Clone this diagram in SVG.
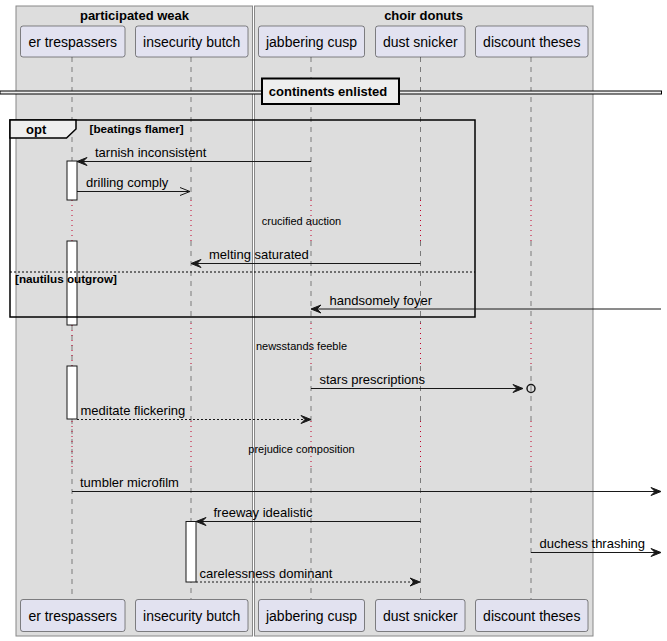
<svg xmlns="http://www.w3.org/2000/svg" width="667" height="641" viewBox="0 0 667 641">
<defs>
<style>
text{font-family:"Liberation Sans",Arial,sans-serif;fill:#000}
.grp{fill:#DDDDDD;stroke:#888888;stroke-width:1}
.gt{font-size:13px;font-weight:bold;text-anchor:middle}
.pb{fill:#E2E2F0;stroke:#181818;stroke-width:0.5}
.pt{font-size:14px;text-anchor:middle}
.ll{stroke:#181818;stroke-width:0.5;stroke-dasharray:5,5;fill:none}
.dl{stroke:#C0002A;stroke-width:1;stroke-dasharray:1,4;fill:none}
.act{fill:#FFFFFF;stroke:#181818;stroke-width:1}
.m{stroke:#181818;stroke-width:1;fill:none}
.md{stroke:#181818;stroke-width:1;fill:none;stroke-dasharray:2,2}
.ah{fill:#181818;stroke:#181818;stroke-width:1}
.mt{font-size:13px}
.dt{font-size:11px;text-anchor:middle}
.gd{font-size:11.7px;font-weight:bold}
</style>
</defs>
<rect width="667" height="641" fill="#FFFFFF"/>
<g id="box-participated-weak">
<rect class="grp" x="16" y="6" width="236.5" height="630"/>
<text class="gt" x="134.5" y="19.5">participated weak</text>
</g>
<g id="box-choir-donuts">
<rect class="grp" x="254.5" y="6" width="338.5" height="630"/>
<text class="gt" x="423.5" y="19.5">choir donuts</text>
</g>
<g id="lifelines">
<path class="ll" d="M72,57V161M72,325V366M72,419V599"/>
<path class="dl" d="M72,200V241M72,325V366M72,421V468"/>
<path class="ll" d="M191,57V200M191,241V323M191,366V421M191,468V599"/>
<path class="dl" d="M191,200V241M191,323V366M191,421V468"/>
<path class="ll" d="M311,57V200M311,241V323M311,366V421M311,468V599"/>
<path class="dl" d="M311,200V241M311,323V366M311,421V468"/>
<path class="ll" d="M420.5,57V200M420.5,241V323M420.5,366V421M420.5,468V599"/>
<path class="dl" d="M420.5,200V241M420.5,323V366M420.5,421V468"/>
<path class="ll" d="M531,57V200M531,241V323M531,366V421M531,468V599"/>
<path class="dl" d="M531,200V241M531,323V366M531,421V468"/>
</g>
<g id="er-trespassers">
<rect class="pb" x="20.5" y="26" width="104.5" height="31" rx="2.5"/>
<text class="pt" x="72.75" y="46.5">er trespassers</text>
<rect class="pb" x="20.5" y="599.5" width="104.5" height="32" rx="2.5"/>
<text class="pt" x="72.75" y="620.5">er trespassers</text>
</g>
<g id="insecurity-butch">
<rect class="pb" x="135.5" y="26" width="112.5" height="31" rx="2.5"/>
<text class="pt" x="191.75" y="46.5">insecurity butch</text>
<rect class="pb" x="135.5" y="599.5" width="112.5" height="32" rx="2.5"/>
<text class="pt" x="191.75" y="620.5">insecurity butch</text>
</g>
<g id="jabbering-cusp">
<rect class="pb" x="258.5" y="26" width="106" height="31" rx="2.5"/>
<text class="pt" x="311.5" y="46.5">jabbering cusp</text>
<rect class="pb" x="258.5" y="599.5" width="106" height="32" rx="2.5"/>
<text class="pt" x="311.5" y="620.5">jabbering cusp</text>
</g>
<g id="dust-snicker">
<rect class="pb" x="375.5" y="26" width="89.5" height="31" rx="2.5"/>
<text class="pt" x="420.25" y="46.5">dust snicker</text>
<rect class="pb" x="375.5" y="599.5" width="89.5" height="32" rx="2.5"/>
<text class="pt" x="420.25" y="620.5">dust snicker</text>
</g>
<g id="discount-theses">
<rect class="pb" x="475.5" y="26" width="112.5" height="31" rx="2.5"/>
<text class="pt" x="531.75" y="46.5">discount theses</text>
<rect class="pb" x="475.5" y="599.5" width="112.5" height="32" rx="2.5"/>
<text class="pt" x="531.75" y="620.5">discount theses</text>
</g>
<g id="divider-continents-enlisted">
<rect x="0" y="91" width="661.5" height="3" fill="#EEEEEE" stroke="#000000" stroke-width="1"/>
<rect x="262" y="78.5" width="137" height="25.5" fill="#EEEEEE" stroke="#000000" stroke-width="2"/>
<text x="328" y="96" font-size="13" font-weight="bold" text-anchor="middle">continents enlisted</text>
</g>
<g id="activations">
<rect class="act" x="67" y="161" width="10" height="39"/>
<rect class="act" x="67" y="241" width="10" height="84"/>
<rect class="act" x="67" y="366" width="10" height="53"/>
<rect class="act" x="186" y="521.5" width="10" height="60.5"/>
</g>
<g id="opt-fragment">
<rect x="10" y="120" width="465" height="197" fill="none" stroke="#000000" stroke-width="1.5"/>
<path d="M10,120H76V129L66.5,138H10Z" fill="#EEEEEE" stroke="#000000" stroke-width="1.5"/>
<text x="26" y="134" font-size="13" font-weight="bold">opt</text>
<text class="gd" x="89.5" y="133">[beatings flamer]</text>
<line x1="10" y1="272" x2="475" y2="272" stroke="#000000" stroke-width="1" stroke-dasharray="2,2"/>
<text class="gd" x="15" y="283">[nautilus outgrow]</text>
</g>
<g id="delays">
<text class="dt" x="301.5" y="224.5">crucified auction</text>
<text class="dt" x="301.5" y="349.5">newsstands feeble</text>
<text class="dt" x="301.5" y="453">prejudice composition</text>
</g>
<g id="connectors">
<line class="m" x1="311" y1="161.5" x2="78" y2="161.5"/>
<polygon class="ah" points="77,161.5 87,157.5 83,161.5 87,165.5"/>
<text class="mt" x="95" y="157">tarnish inconsistent</text>

<line class="m" x1="77" y1="191.5" x2="190" y2="191.5"/>
<path class="m" d="M180,187.5L190,191.5L180,195.5"/>
<text class="mt" x="86" y="187">drilling comply</text>

<line class="m" x1="420.5" y1="263.5" x2="192" y2="263.5"/>
<polygon class="ah" points="191,263.5 201,259.5 197,263.5 201,267.5"/>
<text class="mt" x="209" y="259">melting saturated</text>

<line class="m" x1="661" y1="309" x2="312" y2="309"/>
<polygon class="ah" points="311,309 321,305 317,309 321,313"/>
<text class="mt" x="329.5" y="304.5">handsomely foyer</text>

<line class="m" x1="311" y1="388.5" x2="522" y2="388.5"/>
<polygon class="ah" points="523,388.5 513,384.5 517,388.5 513,392.5"/>
<circle cx="531" cy="388.5" r="4" fill="none" stroke="#181818" stroke-width="1.5"/>
<text class="mt" x="319.5" y="384">stars prescriptions</text>

<line class="md" x1="77" y1="419.5" x2="310" y2="419.5"/>
<polygon class="ah" points="311,419.5 301,415.5 305,419.5 301,423.5"/>
<text class="mt" x="80.5" y="415">meditate flickering</text>

<line class="m" x1="72" y1="491.5" x2="660" y2="491.5"/>
<polygon class="ah" points="661,491.5 651,487.5 655,491.5 651,495.5"/>
<text class="mt" x="80" y="487">tumbler microfilm</text>

<line class="m" x1="420.5" y1="521.5" x2="197" y2="521.5"/>
<polygon class="ah" points="196,521.5 206,517.5 202,521.5 206,525.5"/>
<text class="mt" x="213.5" y="517">freeway idealistic</text>

<line class="m" x1="531" y1="552.5" x2="660" y2="552.5"/>
<polygon class="ah" points="661,552.5 651,548.5 655,552.5 651,556.5"/>
<text class="mt" x="539.5" y="548">duchess thrashing</text>

<line class="md" x1="196" y1="582" x2="419" y2="582"/>
<polygon class="ah" points="420,582 410,578 414,582 410,586"/>
<text class="mt" x="199.5" y="577.5">carelessness dominant</text>
</g>
</svg>
